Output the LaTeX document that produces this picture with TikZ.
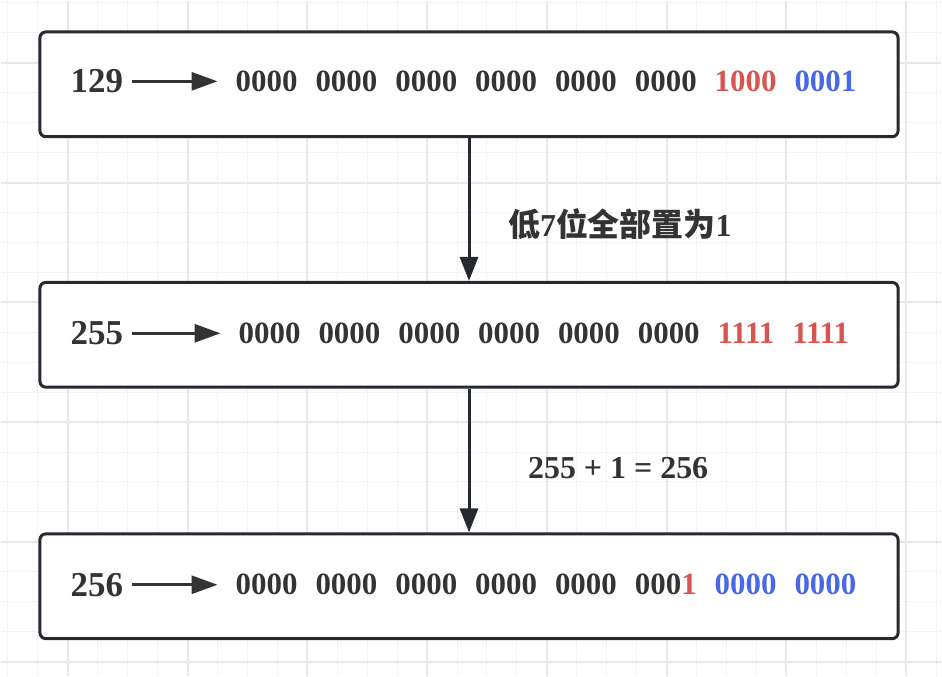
\documentclass[tikz,border=0pt]{standalone}
\usepackage{fontspec}
\setmainfont{Liberation Serif}
\newfontfamily\cjk{Noto Sans CJK SC}
\usetikzlibrary{arrows.meta,positioning}
\definecolor{ink}{RGB}{51,51,51}
\definecolor{edge}{RGB}{38,42,48}
\definecolor{hired}{RGB}{216,84,80}
\definecolor{hiblue}{RGB}{72,104,228}
\definecolor{gridfine}{RGB}{243,243,243}
\definecolor{gridbold}{RGB}{232,232,232}
\newcommand{\gp}{\hspace{18pt}}

\begin{document}
\begin{tikzpicture}[x=1pt, y=-1pt,
  box/.style={draw=edge, line width=3pt, rounded corners=6pt, fill=white, minimum width=860pt, minimum height=105pt, inner sep=0pt},
  num/.style={font=\fontsize{35}{35}\selectfont\bfseries, text=ink, inner sep=0pt},
  bits/.style={font=\fontsize{31}{31}\selectfont\bfseries, text=ink, inner sep=0pt, anchor=west},
  note/.style={font=\fontsize{32}{32}\selectfont\bfseries, text=ink, inner sep=0pt, anchor=west},
  harrow/.style={-{Triangle[length=26pt,width=18pt]}, line width=3pt, draw=ink, shorten <=9pt, shorten >=18pt},
  varrow/.style={-{Triangle[length=24pt,width=18pt]}, line width=3pt, draw=edge}
]
  % background grid
  \fill[white] (0,0) rectangle (942,676);
  \foreach \x in {7,37,...,937} \draw[gridfine, line width=1pt] (\x,0) -- (\x,676);
  \foreach \y in {2,32,...,662} \draw[gridfine, line width=1pt] (0,\y) -- (942,\y);
  \foreach \x in {67,187,...,907} \draw[gridbold, line width=2pt] (\x,0) -- (\x,676);
  \foreach \y in {62,182,...,662} \draw[gridbold, line width=2pt] (0,\y) -- (942,\y);
  \useasboundingbox (0,0) rectangle (942,676);

  \node[box] (box1) at (469,83.5) {};
  \node[box] (box2) at (469,334.5) {};
  \node[box] (box3) at (469,586.5) {};

  \node[num] (n129) at (96,80.5) {129};
  \node[bits] (bits1) at (235,80.5) {0000\gp0000\gp0000\gp0000\gp0000\gp0000\gp\textcolor{hired}{1000}\gp\textcolor{hiblue}{0001}};
  \node[num] (n255) at (96,333) {255};
  \node[bits] (bits2) at (238,333) {0000\gp0000\gp0000\gp0000\gp0000\gp0000\gp\textcolor{hired}{1111}\gp\textcolor{hired}{1111}};
  \node[num] (n256) at (96,585) {256};
  \node[bits] (bits3) at (235,585) {0000\gp0000\gp0000\gp0000\gp0000\gp000\textcolor{hired}{1}\gp\textcolor{hiblue}{0000}\gp\textcolor{hiblue}{0000}};

  \draw[harrow] (n129) -- (bits1);
  \draw[harrow] (n255) -- (bits2);
  \draw[harrow] (n256) -- (bits3);

  \draw[varrow] (box1) -- (box2);
  \draw[varrow] (box2) -- (box3);

  \node[note] (step1) at (508,224) {{\cjk 低}7{\cjk 位全部置为}1};
  \node[note] (step2) at (528,468) {255 + 1 = 256};
\end{tikzpicture}
\end{document}
